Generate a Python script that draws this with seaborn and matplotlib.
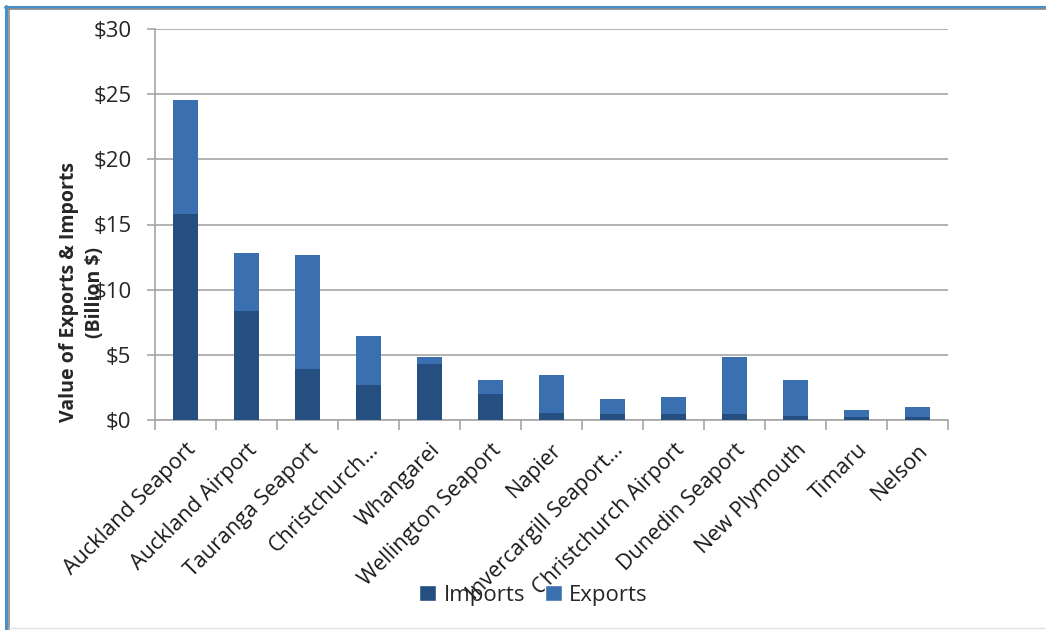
import pandas as pd
import matplotlib
matplotlib.use('Agg')
import matplotlib.pyplot as plt
import seaborn as sns
from matplotlib.lines import Line2D
from matplotlib.patches import Patch
from matplotlib.ticker import FuncFormatter, FixedLocator

ports = ['Auckland Seaport', 'Auckland Airport', 'Tauranga Seaport', 'Christchurch…',
         'Whangarei', 'Wellington Seaport', 'Napier', 'Invercargill Seaport…',
         'Christchurch Airport', 'Dunedin Seaport', 'New Plymouth', 'Timaru', 'Nelson']
imports = [15.8, 8.4, 3.9, 2.65, 4.3, 2.0, 0.5, 0.45, 0.45, 0.45, 0.3, 0.2, 0.2]
exports = [8.75, 4.4, 8.75, 3.8, 0.5, 1.1, 2.95, 1.15, 1.3, 4.4, 2.75, 0.57, 0.82]

imp_col = '#254F80'
exp_col = '#3B70B0'
W, H = 1046, 630

df = pd.DataFrame({'port': ports, 'Imports': imports, 'Exports': exports})
df['total'] = df['Imports'] + df['Exports']

sns.set_style('white')
plt.rcParams['font.family'] = ['Open Sans', 'DejaVu Sans']

fig = plt.figure(figsize=(W / 100, H / 100), dpi=100)
ax = fig.add_axes([155 / W, 1 - 420 / H, (948 - 155) / W, (420 - 29) / H])

# stacked: draw total (exports on top) then imports over it
sns.barplot(data=df, x='port', y='total', color=exp_col, width=0.41, ax=ax,
            saturation=1, linewidth=0, zorder=3)
sns.barplot(data=df, x='port', y='Imports', color=imp_col, width=0.41, ax=ax,
            saturation=1, linewidth=0, zorder=4)

ax.set_ylim(0, 30)
ax.set_xlim(-0.5, len(ports) - 0.5)
ax.set_yticks(range(0, 31, 5))
ax.yaxis.set_major_formatter(FuncFormatter(lambda v, p: f'${int(v)}'))
ax.grid(axis='y', color='#A6A6A6', linewidth=1.2, zorder=0)
ax.grid(axis='x', visible=False)
ax.set_axisbelow(True)

for s in ['top', 'right']:
    ax.spines[s].set_visible(False)
for s in ['left', 'bottom']:
    ax.spines[s].set_color('#A6A6A6')
    ax.spines[s].set_linewidth(1.2)

ax.tick_params(axis='y', length=6, color='#A6A6A6', width=1.2, labelsize=16,
               pad=11, left=True, labelcolor='#262626')
ax.tick_params(axis='x', which='major', length=0, labelsize=15.5, pad=14,
               labelcolor='#1a1a1a')
ax.xaxis.set_minor_locator(FixedLocator([i - 0.5 for i in range(len(ports) + 1)]))
ax.tick_params(axis='x', which='minor', length=7, color='#A6A6A6', width=1.2, bottom=True)
ax.set_xticks(range(len(ports)))
ax.set_xticklabels(ports, rotation=45, ha='right', rotation_mode='anchor')
ax.set_xlabel('')
ax.set_ylabel('')

fig.text(82 / W, 1 - 292 / H, 'Value of Exports & Imports\n(Billion $)',
         rotation=90, ha='center', va='center', multialignment='center',
         fontsize=14, fontweight='bold', linespacing=1.45)

handles = [Patch(facecolor=imp_col, label='Imports'), Patch(facecolor=exp_col, label='Exports')]
fig.legend(handles=handles, loc='center', bbox_to_anchor=(0.51, 1 - 595 / H), ncol=2,
           frameon=False, fontsize=16, handlelength=0.75, handleheight=0.75,
           handletextpad=0.35, columnspacing=0.9)

# window frame: blue outer line and gray inner line on top/left, faint bottom line
fig.add_artist(Line2D([5 / W, 1], [1 - 6.5 / H, 1 - 6.5 / H], color='#4A90C8', lw=2.2))
fig.add_artist(Line2D([8 / W, 1], [1 - 9 / H, 1 - 9 / H], color='#8C8C8C', lw=1.2))
fig.add_artist(Line2D([6 / W, 6 / W], [0, 1 - 5.5 / H], color='#4A90C8', lw=2.2))
fig.add_artist(Line2D([8.8 / W, 8.8 / W], [0, 1 - 8.5 / H], color='#8C8C8C', lw=1.2))
fig.add_artist(Line2D([9 / W, 1], [1 - 628 / H, 1 - 628 / H], color='#E0E0E0', lw=1))

fig.savefig('out.png', dpi=100)
